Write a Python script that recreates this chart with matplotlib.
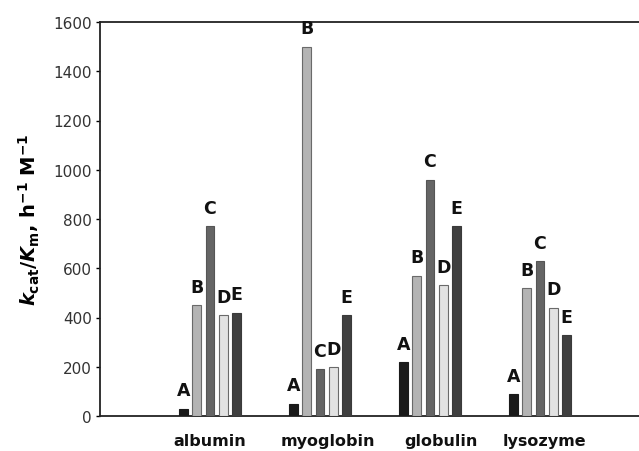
import matplotlib
matplotlib.use("Agg")
import matplotlib.pyplot as plt
import numpy as np

proteins = ["albumin", "myoglobin", "globulin", "lysozyme"]
series = ["A", "B", "C", "D", "E"]
values = {
    "A": [30, 50, 220, 90],
    "B": [450, 1500, 570, 520],
    "C": [770, 190, 960, 630],
    "D": [410, 200, 530, 440],
    "E": [420, 410, 770, 330],
}
yticks = [0, 200, 400, 600, 800, 1000, 1200, 1400, 1600]

fills = {"A": "#1a1a1a", "B": "#b4b4b4", "C": "#656565", "D": "#e2e2e2", "E": "#404040"}
edges = {"A": "#1a1a1a", "B": "#6a6a6a", "C": "#555555", "D": "#6a6a6a", "E": "#3a3a3a"}

plt.rcParams["font.family"] = ["DejaVu Sans"]
plt.rcParams["mathtext.fontset"] = "custom"
plt.rcParams["mathtext.rm"] = "DejaVu Sans:bold"
plt.rcParams["mathtext.it"] = "DejaVu Sans:italic:bold"
plt.rcParams["mathtext.bf"] = "DejaVu Sans:bold"

fig = plt.figure(figsize=(6.39, 4.52), dpi=100)
ax = fig.add_axes([100/639, 1 - 417/452, 1 - 100/639, (417 - 23)/452])

x = np.arange(len(proteins))
step = 0.121
width = 0.078
for j, s in enumerate(series):
    xs = x + (j - 2) * step
    ax.bar(xs, values[s], width=width, color=fills[s], edgecolor=edges[s], linewidth=0.8, zorder=3)
    for xi, v in zip(xs, values[s]):
        ax.annotate(s, (xi, v), xytext=(0, 9.5), textcoords="offset points",
                    ha="center", va="baseline", fontsize=12.5, fontweight="bold", color="#111111")

ax.set_xlim(-1, 3.9)
ax.set_ylim(0, 1600)
ax.set_yticks(yticks)
ax.set_yticklabels([str(t) for t in yticks], fontsize=11, color="#333333")
label_shift = np.array([0.0, 0.07, 0.1, 0.04])
ax.set_xticks(x + label_shift)
ax.set_xticklabels(proteins, fontsize=11.5, fontweight="bold", color="#111111")
ax.tick_params(axis="x", length=0, pad=12)
ax.tick_params(axis="y", direction="out", length=3, width=1, pad=3)

for sp in ["left", "bottom", "top"]:
    ax.spines[sp].set_linewidth(1.3)
    ax.spines[sp].set_color("#222222")
ax.spines["right"].set_visible(False)

ax.set_ylabel(r"$\mathit{k}_{\mathrm{cat}}/\mathit{K}_{\mathrm{m}}$, h$^{\mathrm{-1}}$ M$^{\mathrm{-1}}$",
              fontsize=14, fontweight="bold", labelpad=8)

fig.savefig("out.png", dpi=100)
